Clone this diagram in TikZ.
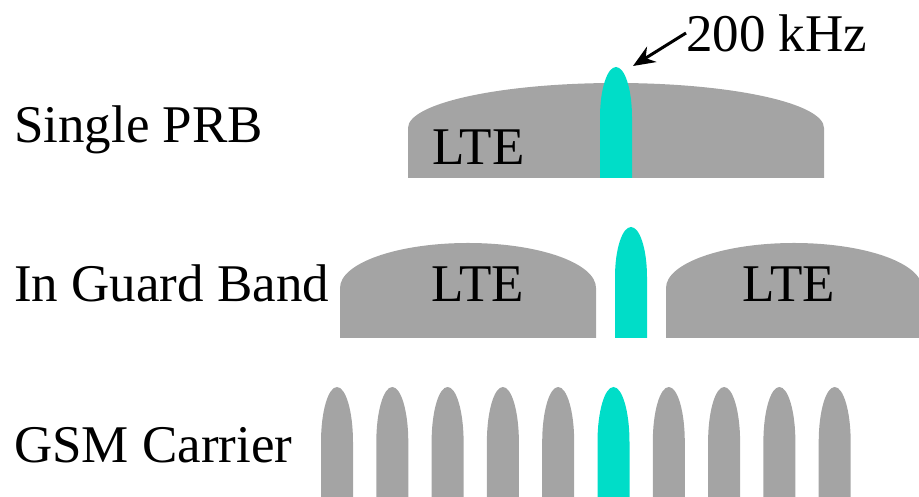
\documentclass[tikz,border=0pt]{standalone}
\usepackage{fontspec}
\setmainfont{Liberation Serif}
\usepackage{tikz}
\usetikzlibrary{arrows.meta,positioning,calc}
\definecolor{ltegray}{HTML}{A4A4A4}
\definecolor{nbcyan}{HTML}{00DDC8}
\tikzset{
    lab/.style={anchor=base west,inner sep=0pt,font=\fontsize{53}{60}\selectfont},
    band/.style={fill=ltegray},
    nb/.style={fill=nbcyan}
}
% #1 style, #2 left x, #3 right x, #4 bottom y, #5 side y, #6 top y
\newcommand{\bump}[6]{%
    \path[#1] (#2,#4) -- (#2,#5)
        arc[start angle=180,end angle=0,x radius={((#3)-(#2))/2*1pt},y radius={((#6)-(#5))*1pt}]
        -- (#3,#4) -- cycle;}

\begin{document}
\begin{tikzpicture}[x=1pt,y=1pt]
    \useasboundingbox (0,0) rectangle (919,497);
    % Single PRB
    \node[lab] (single) at (14,354) {Single PRB};
    \bump{band}{408}{824}{319}{369}{414}
    \bump{nb}{600}{632}{319}{380}{430}
    \node[lab] (lteA) at (432,332) {LTE};
    \node[lab,anchor=west] (khz) at (686,464) {200 kHz};
    \coordinate (tip) at (633,431);
    \draw[line width=3pt,-{Stealth[length=22pt,width=18pt]}] (khz.west) -- (tip);
    % In Guard Band
    \node[lab] (guard) at (14,195) {In Guard Band};
    \bump{band}{340}{596}{159}{209}{254}
    \bump{band}{666}{922}{159}{209}{254}
    \bump{nb}{615}{647}{159}{220}{270}
    \node[lab,anchor=base] (lteB) at (478,195) {LTE};
    \node[lab,anchor=base] (lteC) at (789,195) {LTE};
    % GSM Carrier
    \node[lab] (gsm) at (14,34) {GSM Carrier};
    \foreach \i in {0,...,9} {
        \pgfmathsetmacro{\xa}{321+55.3*\i}
        \pgfmathsetmacro{\xb}{\xa+32}
        \ifnum\i=5
            \bump{nb}{\xa}{\xb}{-2}{55}{110}
        \else
            \bump{band}{\xa}{\xb}{-2}{55}{110}
        \fi
    }
\end{tikzpicture}
\end{document}
